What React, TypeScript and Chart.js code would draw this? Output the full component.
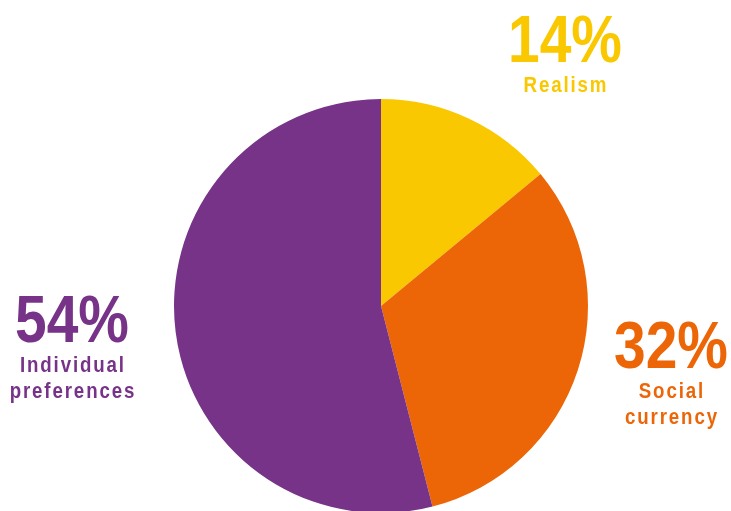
import React, { useEffect, useRef } from "react";
import { Chart, registerables } from "chart.js";

Chart.register(...registerables);

const categories = ["Realism", "Social currency", "Individual preferences"];
const values = [14, 32, 54];
const colors = ["#F9C800", "#EC6608", "#773388"];
const labelLines = [["Realism"], ["Social", "currency"], ["Individual", "preferences"]];
// label anchor positions (center x, baseline of percentage)
const labelPos = [
  { x: 565, y: 62 },
  { x: 671, y: 368 },
  { x: 72, y: 342 },
];

const FONT = "'Liberation Sans', Arial, sans-serif";
const SQUEEZE = 0.85;

function drawText(ctx: CanvasRenderingContext2D, text: string, x: number, y: number, font: string, spacing: number) {
  ctx.save();
  ctx.translate(x, y);
  ctx.scale(SQUEEZE, 1);
  ctx.font = font;
  (ctx as any).letterSpacing = `${spacing}px`;
  ctx.textAlign = "left";
  ctx.textBaseline = "alphabetic";
  const w = ctx.measureText(text).width - spacing;
  ctx.fillText(text, -w / 2, 0);
  ctx.restore();
}

const labelPlugin = {
  id: "bigLabels",
  afterDraw(chart: any) {
    const ctx = chart.ctx as CanvasRenderingContext2D;
    values.forEach((v, i) => {
      const p = labelPos[i];
      ctx.fillStyle = colors[i];
      drawText(ctx, `${v}%`, p.x, p.y, `bold 67px ${FONT}`, 0);
      labelLines[i].forEach((line, j) => {
        drawText(ctx, line, p.x, p.y + 30 + j * 26, `bold 22px ${FONT}`, 2.2);
      });
    });
  },
};

export default function App() {
  const ref = useRef<HTMLCanvasElement | null>(null);
  useEffect(() => {
    if (!ref.current) return;
    const chart = new Chart(ref.current, {
      type: "pie",
      data: {
        labels: categories,
        datasets: [
          {
            data: values,
            backgroundColor: colors,
            borderWidth: 0,
          },
        ],
      },
      options: {
        responsive: false,
        animation: false,
        layout: { padding: { left: 174, right: 143, top: 99, bottom: 7 } },
        plugins: { legend: { display: false }, tooltip: { enabled: false } },
      },
      plugins: [labelPlugin],
    });
    return () => chart.destroy();
  }, []);
  return (
    <div style={{ position: "fixed", left: 0, top: 0, width: 731, height: 511, overflow: "hidden", background: "#fff" }}>
      <canvas ref={ref} width={731} height={520} style={{ width: 731, height: 520, display: "block" }} />
    </div>
  );
}
